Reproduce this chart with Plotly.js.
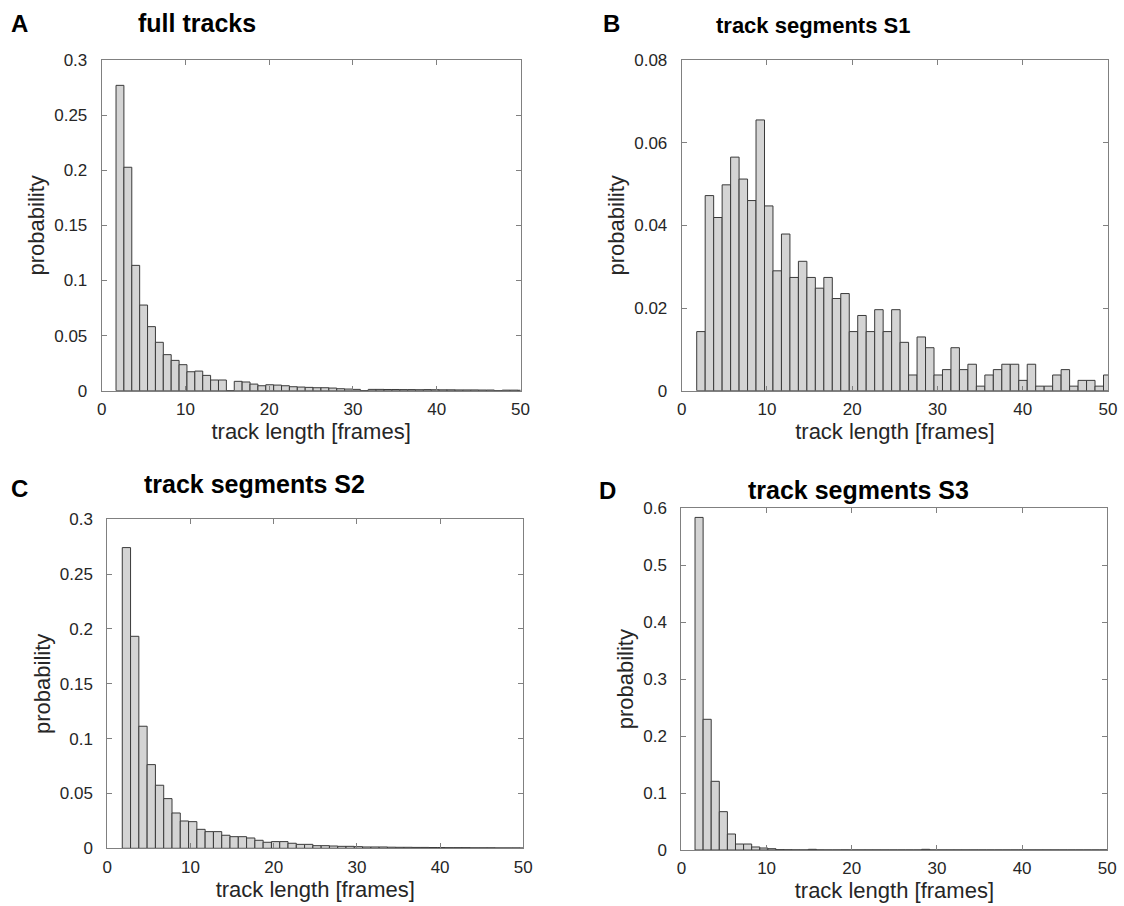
<!DOCTYPE html>
<html>
<head>
<meta charset="utf-8">
<script src="https://cdn.plot.ly/plotly-3.0.1.min.js"></script>
<style>
  html, body { margin: 0; padding: 0; background: #ffffff; }
  #chart { width: 1124px; height: 906px; }
</style>
</head>
<body>
<div id="chart"></div>
<script>
// Histogram bin layout (left edge of first bin and bin width, in frames)
const binStartA = 1.71, binWidthA = 0.941;
const binStartB = 1.76, binWidthB = 0.994;
const binStartC = 1.80, binWidthC = 0.996;
const binStartD = 1.60, binWidthD = 0.950;

// Probability per bin — full tracks
const probFull = [
  0.277, 0.2027, 0.1137, 0.0777, 0.0581, 0.0439, 0.0327, 0.0275, 0.0236, 0.0172,
  0.0178, 0.0139, 0.0097, 0.0097, 0, 0.0085, 0.0079, 0.0060, 0.0045, 0.0054,
  0.0051, 0.0045, 0.0036, 0.0033, 0.0030, 0.0027, 0.0027, 0.0024, 0.0018, 0.0015,
  0.0012, 0, 0.0012, 0.0012, 0.0011, 0.0011, 0.0010, 0.0010, 0.0009, 0.0010,
  0.0009, 0.0008, 0.0008, 0.0007, 0.0007, 0.0007, 0.0006, 0.0006, 0, 0.0005,
  0.0005, 0.0004
];

// Probability per bin — track segments S1
const probS1 = [
  0.0143, 0.0472, 0.0419, 0.0498, 0.0565, 0.0512, 0.0460, 0.0655, 0.0447, 0.0290,
  0.0379, 0.0274, 0.0313, 0.0274, 0.0248, 0.0274, 0.0223, 0.0235, 0.0143, 0.0182,
  0.0143, 0.0196, 0.0143, 0.0196, 0.0117, 0.0038, 0.0130, 0.0104, 0.0038, 0.0051,
  0.0104, 0.0051, 0.0064, 0.0011, 0.0038, 0.0051, 0.0064, 0.0064, 0.0025, 0.0064,
  0.0011, 0.0011, 0.0038, 0.0051, 0.0011, 0.0025, 0.0025, 0.0011, 0.0038
];

// Probability per bin — track segments S2
const probS2 = [
  0.2742, 0.1933, 0.1113, 0.0763, 0.0575, 0.0453, 0.0322, 0.0249, 0.0243, 0.0173,
  0.0152, 0.0152, 0.0119, 0.0106, 0.0106, 0.0094, 0.0073, 0.0055, 0.0061, 0.0061,
  0.0046, 0.0036, 0.0036, 0.0024, 0.0024, 0.0021, 0.0018, 0.0018, 0.0015, 0.0012,
  0.0012, 0.0012, 0.0010, 0.0009, 0.0009, 0.0008, 0.0008, 0.0007, 0.0007, 0.0006,
  0.0006, 0.0006, 0.0005, 0.0005, 0.0005, 0.0004, 0.0004, 0.0004, 0.0003
];

// Probability per bin — track segments S3
const probS3 = [
  0.584, 0.2295, 0.1206, 0.0673, 0.0281, 0.0105, 0.0105, 0.0053, 0.0035, 0.0023,
  0.0006, 0.0004, 0.0002, 0.0001, 0.0012, 0.0002, 0.0001, 0.0001, 0.0002, 0.0001,
  0.0001, 0.0001, 0.0001, 0.0001, 0.0001, 0.0001, 0.0001, 0.0001, 0.0012, 0.0001,
  0.0001, 0.0001, 0.0001, 0.0001, 0.0001, 0.0001, 0.0001, 0.0001, 0.0001, 0.0001,
  0.0001, 0.0001, 0.0001, 0.0001, 0.0001, 0.0001, 0.0001, 0.0001, 0.0001, 0.0001,
  0.0001
];

const panelLetters = ['A', 'B', 'C', 'D'];
const panelTitles = ['full tracks', 'track segments S1', 'track segments S2', 'track segments S3'];
const xTitle = 'track length [frames]';
const yTitle = 'probability';

const W = 1124, H = 906;
const px = v => v / W;           // pixel column -> paper x
const py = v => 1 - v / H;       // pixel row -> paper y

function binCenters(start, width, n) {
  const c = [];
  for (let i = 0; i < n; i++) c.push(start + width * (i + 0.5));
  return c;
}

function barTrace(start, width, values, axisSuffix) {
  return {
    type: 'bar',
    x: binCenters(start, width, values.length),
    y: values,
    width: width,
    xaxis: 'x' + axisSuffix,
    yaxis: 'y' + axisSuffix,
    marker: { color: '#d4d4d4', line: { color: '#3a3a3a', width: 1 } },
    hoverinfo: 'x+y',
    showlegend: false
  };
}

const traces = [
  barTrace(binStartA, binWidthA, probFull, ''),
  barTrace(binStartB, binWidthB, probS1, '2'),
  barTrace(binStartC, binWidthC, probS2, '3'),
  barTrace(binStartD, binWidthD, probS3, '4')
];

const fontFamily = 'Liberation Sans, Arial, sans-serif';
const tickFont = { family: fontFamily, size: 17, color: '#262626' };
const titleFont = { family: fontFamily, size: 22, color: '#262626' };

function xAxis(domain, anchor, standoff) {
  return {
    domain: domain, anchor: anchor, range: [0, 50], dtick: 10, tick0: 0,
    showline: true, linecolor: '#808080', linewidth: 1, mirror: 'ticks',
    ticks: 'inside', ticklen: 5, tickcolor: '#808080',
    showgrid: false, zeroline: false, tickfont: tickFont, ticklabelstandoff: 3,
    title: { text: xTitle, font: titleFont, standoff: standoff }
  };
}
function yAxis(domain, anchor, top, step) {
  return {
    domain: domain, anchor: anchor, range: [0, top], dtick: step, tick0: 0,
    showline: true, linecolor: '#808080', linewidth: 1, mirror: 'ticks',
    ticks: 'inside', ticklen: 5, tickcolor: '#808080',
    showgrid: false, zeroline: false, tickfont: tickFont, ticklabelstandoff: 10,
    title: { text: yTitle, font: titleFont, standoff: 3 }
  };
}

// Panel letters and bold panel headings
const letterPos = [[19, 23], [611, 23], [19, 488], [607, 490]];
const titlePos = [[197, 23], [813, 25], [254, 484], [858, 490]];
const titleSize = [25, 22, 25, 25];
const annotations = [];
for (let i = 0; i < 4; i++) {
  annotations.push({
    text: '<b>' + panelLetters[i] + '</b>', xref: 'paper', yref: 'paper',
    x: px(letterPos[i][0]), y: py(letterPos[i][1]), xanchor: 'center', yanchor: 'middle',
    showarrow: false, font: { family: fontFamily, size: 24, color: '#000000' }
  });
  annotations.push({
    text: '<b>' + panelTitles[i] + '</b>', xref: 'paper', yref: 'paper',
    x: px(titlePos[i][0]), y: py(titlePos[i][1]), xanchor: 'center', yanchor: 'middle',
    showarrow: false, font: { family: fontFamily, size: titleSize[i], color: '#000000' }
  });
}

const layout = {
  width: W, height: H,
  margin: { l: 0, r: 0, t: 0, b: 0 },
  paper_bgcolor: '#ffffff', plot_bgcolor: '#ffffff',
  bargap: 0,
  xaxis:  xAxis([px(101.7), px(520.5)], 'y', 2),
  yaxis:  yAxis([py(390.7), py(60)], 'x', 0.3, 0.05),
  xaxis2: xAxis([px(681.7), px(1108)], 'y2', 2),
  yaxis2: yAxis([py(390.7), py(60)], 'x2', 0.08, 0.02),
  xaxis3: xAxis([px(107.3), px(523.3)], 'y3', 2),
  yaxis3: yAxis([py(848.3), py(519.3)], 'x3', 0.3, 0.05),
  xaxis4: xAxis([px(681.4), px(1107.3)], 'y4', 0),
  yaxis4: yAxis([py(850), py(508.3)], 'x4', 0.6, 0.1),
  annotations: annotations
};

Plotly.newPlot('chart', traces, layout, { displayModeBar: false, staticPlot: true });
</script>
</body>
</html>
